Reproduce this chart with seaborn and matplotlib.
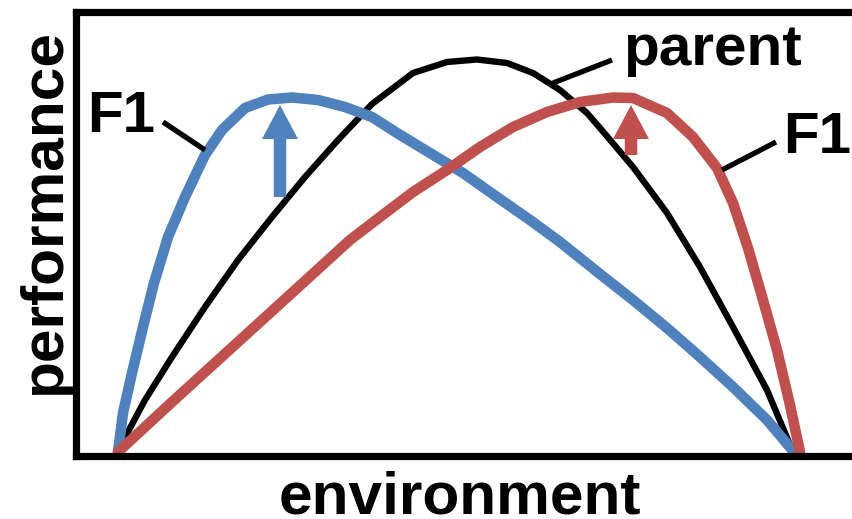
import matplotlib
matplotlib.use("Agg")
import matplotlib.pyplot as plt
import seaborn as sns
import pandas as pd

# ---- data (arbitrary units) ----
parent_env = [0, 4, 27, 54, 87, 120, 154, 187, 220, 254, 295, 329, 359, 389, 415, 442,
              469, 482, 515, 549, 582, 615, 649, 670, 675]
parent_perf = [0, 9, 52, 95, 145, 192, 235, 275, 312, 348, 379, 390, 392.5, 389, 379, 362,
               339, 324, 285, 239, 185, 125, 62, 12, 0]

f1_left_env = [0, 5, 14, 25, 36, 50, 67, 87, 104, 127, 150, 174, 200, 227, 254, 279, 312,
               345, 379, 412, 442, 482, 515, 549, 582, 615, 649, 676]
f1_left_perf = [0, 39, 79, 125, 169, 215, 255, 297, 322, 344, 352.5, 354.5, 352, 345, 335,
                319, 299, 279, 255, 232, 210, 178, 152, 124, 95, 65, 32, 0]

f1_right_env = [0, 54, 120, 187, 232, 262, 295, 329, 362, 395, 429, 462, 495, 515, 549,
                575, 599, 615, 630, 645, 659, 672, 682]
f1_right_perf = [0, 50, 110, 171, 212, 235, 260, 282, 305, 325, 340, 350, 354.5, 354, 339,
                 315, 284, 249, 204, 152, 102, 47, 0]

# shift arrows: position on the environment axis, tail and tip performance
arrow_env = [162, 513]
arrow_tail = [255, 297]
arrow_tip = [347, 347]

labels = ["F1", "parent", "F1"]
x_label = "environment"
y_label = "performance"

BLUE = "#4F81BD"
RED = "#C0504D"

sns.set_theme(style="white")
plt.rcParams["font.family"] = ["Liberation Sans", "DejaVu Sans"]
plt.rcParams["font.weight"] = "bold"
plt.rcParams["text.color"] = "black"

fig = plt.figure(figsize=(8.52, 5.19), dpi=100)
ax = fig.add_axes([75.5 / 852, (519 - 456) / 519, 1 - 75.5 / 852, (456 - 11.5) / 519])

df_p = pd.DataFrame({"environment": parent_env, "performance": parent_perf})
df_l = pd.DataFrame({"environment": f1_left_env, "performance": f1_left_perf})
df_r = pd.DataFrame({"environment": f1_right_env, "performance": f1_right_perf})

sns.lineplot(data=df_p, x="environment", y="performance", sort=False, estimator=None,
             color="black", lw=4.6, ax=ax, zorder=2)
sns.lineplot(data=df_l, x="environment", y="performance", sort=False, estimator=None,
             color=BLUE, lw=7.6, ax=ax, zorder=3)
sns.lineplot(data=df_r, x="environment", y="performance", sort=False, estimator=None,
             color=RED, lw=7.6, ax=ax, zorder=4)

for xa, yt, yh, c in zip(arrow_env, arrow_tail, arrow_tip, [BLUE, RED]):
    ax.arrow(xa, yt, 0, yh - yt, width=12.5, head_width=36, head_length=34,
             length_includes_head=True, color=c, lw=0, zorder=5)

# leader lines from the labels to the curves
ax.plot([45, 87], [330, 302], color="black", lw=3.8, solid_capstyle="butt", zorder=6)
ax.plot([435, 494], [369, 392], color="black", lw=3.8, solid_capstyle="butt", zorder=6)
ax.plot([604, 658], [282, 310], color="black", lw=3.8, solid_capstyle="butt", zorder=6)

ax.text(3, 320, labels[0], ha="center", va="baseline", fontsize=42,
        fontweight="bold", clip_on=False)
ax.text(594, 387, labels[1], ha="center", va="baseline", fontsize=42,
        fontweight="bold", clip_on=False)
ax.text(699, 299, labels[2], ha="center", va="baseline", fontsize=42,
        fontweight="bold", clip_on=False)

ax.set_xlim(-42.5, 734)
ax.set_ylim(-4, 440.5)
ax.set_xticks([])
ax.set_yticks([])
ax.set_xlabel("")
ax.set_ylabel("")
for s in ["left", "top", "bottom"]:
    ax.spines[s].set_color("black")
    ax.spines[s].set_linewidth(5.2)
    ax.spines[s].set_zorder(10)
ax.spines["right"].set_visible(False)

fig.text(460 / 852, (519 - 513) / 519, x_label, ha="center", va="baseline",
         fontsize=43.5, fontweight="bold")
fig.text(44 / 852, 1 - 211 / 519, y_label, ha="center", va="center", rotation=90,
         fontsize=43.5, fontweight="bold")

fig.savefig("out.png", dpi=100)
